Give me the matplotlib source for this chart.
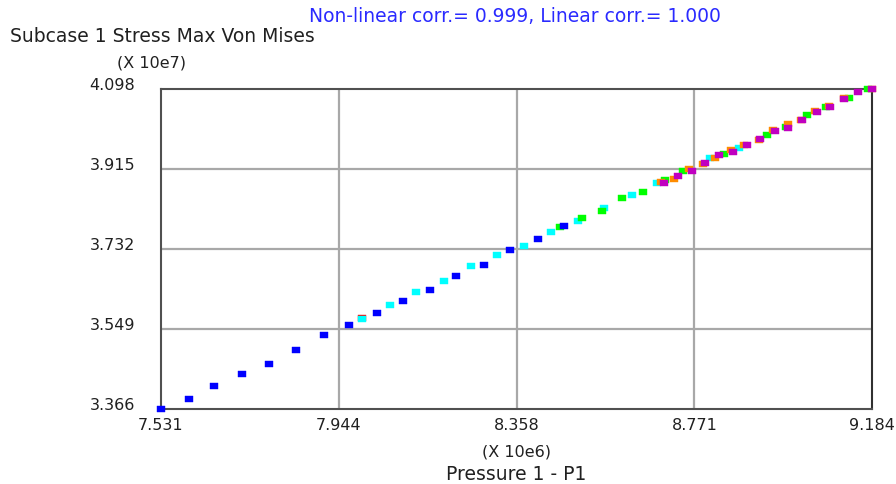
import matplotlib
matplotlib.use("Agg")
import matplotlib.pyplot as plt
from matplotlib.path import Path
import numpy as np

# values (x in 1e6, y in 1e7)
blue_x = [7.531, 7.595, 7.655, 7.719, 7.781, 7.844, 7.909, 7.969, 8.034, 8.094,
          8.157, 8.218, 8.282, 8.343, 8.407, 8.467]
blue_y = [3.366, 3.389, 3.419, 3.447, 3.469, 3.500, 3.535, 3.558, 3.586, 3.614,
          3.639, 3.671, 3.696, 3.729, 3.755, 3.785]

red_x = [7.999]
red_y = [3.575]

cyan_x = [7.999, 8.064, 8.125, 8.188, 8.252, 8.312, 8.376, 8.437, 8.501, 8.561,
          8.626, 8.684, 8.808, 8.875]
cyan_y = [3.571, 3.603, 3.634, 3.659, 3.692, 3.719, 3.740, 3.772, 3.795, 3.825,
          3.855, 3.884, 3.941, 3.964]

green_x = [8.459, 8.509, 8.557, 8.603, 8.652, 8.702, 8.745, 8.840, 8.939, 8.984,
           9.033, 9.077, 9.131, 9.175]
green_y = [3.782, 3.802, 3.818, 3.848, 3.863, 3.889, 3.911, 3.949, 3.993, 4.012,
           4.039, 4.057, 4.077, 4.097]

orange_x = [8.693, 8.723, 8.758, 8.792, 8.819, 8.856, 8.886, 8.921, 8.954, 8.988,
            9.020, 9.052, 9.085, 9.118, 9.184]
orange_y = [3.886, 3.893, 3.916, 3.927, 3.941, 3.958, 3.970, 3.982, 4.004, 4.017,
            4.026, 4.047, 4.060, 4.077, 4.098]

magenta_x = [8.701, 8.732, 8.765, 8.796, 8.829, 8.860, 8.893, 8.923, 8.958, 8.988,
             9.021, 9.055, 9.086, 9.120, 9.151, 9.184]
magenta_y = [3.883, 3.898, 3.911, 3.928, 3.946, 3.954, 3.971, 3.984, 4.002, 4.009,
             4.026, 4.046, 4.057, 4.075, 4.090, 4.097]

x_ticks = [7.531, 7.944, 8.358, 8.771, 9.184]
y_ticks = [3.366, 3.549, 3.732, 3.915, 4.098]

W, H = 896, 485
fig = plt.figure(figsize=(W / 100, H / 100), dpi=100)
fig.patch.set_facecolor("white")
ax = fig.add_axes([161 / W, 1 - 410 / H, (872 - 161) / W, (410 - 90) / H])

ax.set_xlim(x_ticks[0], x_ticks[-1])
ax.set_ylim(y_ticks[0], y_ticks[-1])

for v in x_ticks[1:-1]:
    ax.axvline(v, color="#a8a8a8", lw=1.6, zorder=1)
for v in y_ticks[1:-1]:
    ax.axhline(v, color="#a8a8a8", lw=1.6, zorder=1)

rect = Path([(-1, -0.7), (1, -0.7), (1, 0.7), (-1, 0.7), (-1, -0.7)],
            [Path.MOVETO, Path.LINETO, Path.LINETO, Path.LINETO, Path.CLOSEPOLY])
ms = 5.5

series = [
    (red_x, red_y, "#ff0000"),
    (cyan_x, cyan_y, "#00ffff"),
    (green_x, green_y, "#00ff00"),
    (blue_x, blue_y, "#0000ff"),
    (orange_x, orange_y, "#ff8c00"),
    (magenta_x, magenta_y, "#c000c0"),
]
for i, (xs, ys, c) in enumerate(series):
    ax.plot(xs, ys, ls="none", marker=rect, ms=ms, mfc=c, mec=c, mew=0.3,
            zorder=3 + i, clip_on=False)

for s in ax.spines.values():
    s.set_color("#505050")
    s.set_linewidth(1.5)
ax.spines["right"].set_color("#303030")

ax.set_xticks(x_ticks)
ax.set_yticks(y_ticks)
ax.set_xticklabels([f"{v:.3f}" for v in x_ticks])
ax.set_yticklabels([])
ax.tick_params(axis="x", length=0, pad=6, labelsize=11.5, labelcolor="#202020")
ax.tick_params(axis="y", length=0)

for v in y_ticks:
    ax.annotate(f"{v:.3f}", xy=(0, v), xycoords=("axes fraction", "data"),
                xytext=(-26, 4), textcoords="offset pixels",
                ha="right", va="center", fontsize=11.5, color="#202020")

fig.text(10 / W, 1 - 37 / H, "Subcase 1 Stress Max Von Mises", fontsize=13.5,
         color="#202020", va="center", ha="left")
fig.text(515 / W, 1 - 17 / H, "Non-linear corr.= 0.999, Linear corr.= 1.000",
         fontsize=13.5, color="#2a2aff", va="center", ha="center")
fig.text(151 / W, 1 - 63 / H, "(X 10e7)", fontsize=11.5, color="#202020",
         va="center", ha="center")
fig.text(516 / W, 1 - 452 / H, "(X 10e6)", fontsize=11.5, color="#202020",
         va="center", ha="center")
fig.text(516 / W, 1 - 475 / H, "Pressure 1 - P1", fontsize=13.5, color="#202020",
         va="center", ha="center")

fig.savefig("out.png", dpi=100, facecolor="white")
